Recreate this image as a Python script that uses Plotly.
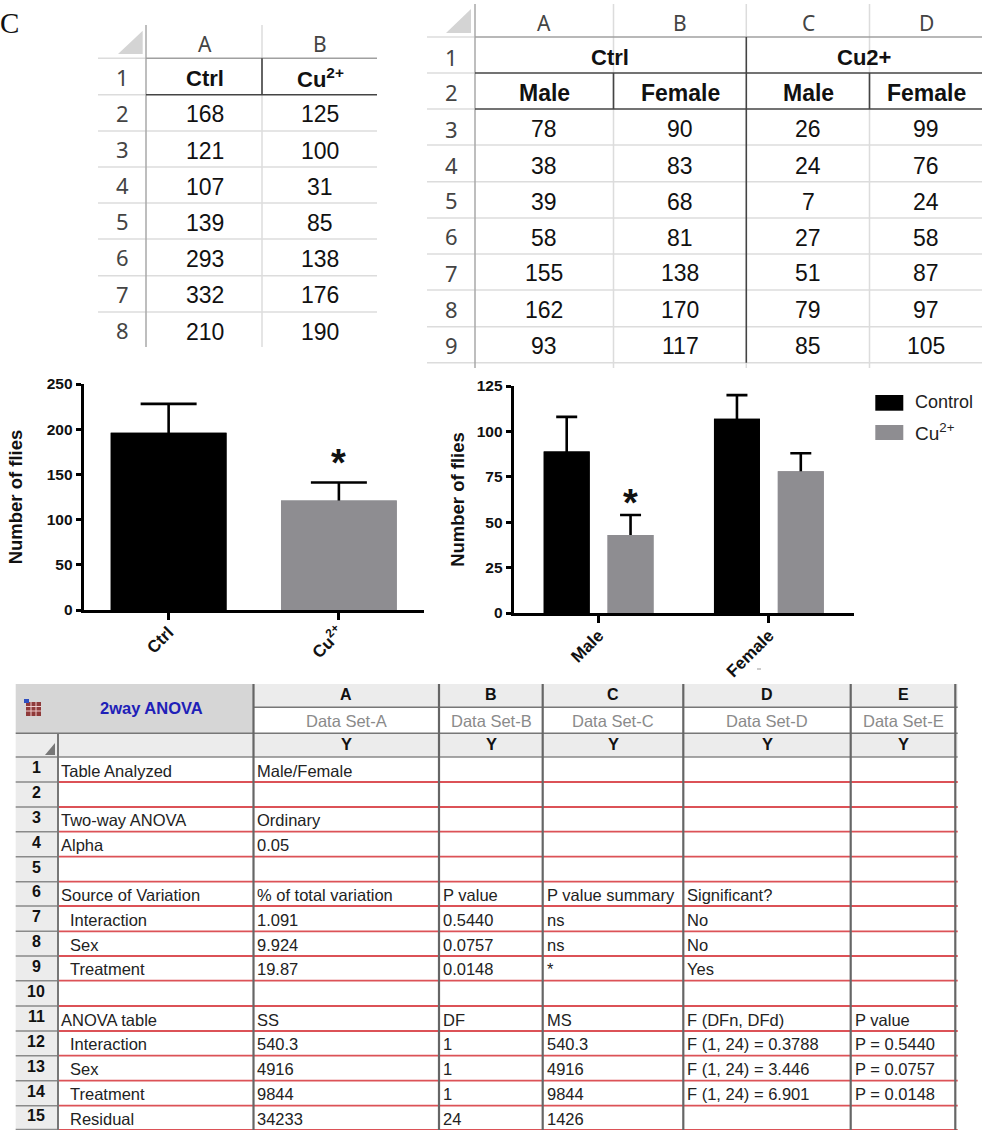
import plotly.graph_objects as go

# ---------- data ----------
total_categories = ["Ctrl", "Cu<sup>2+</sup>"]
total_means = [196, 121]
total_errors = [32, 20]

sex_categories = ["Male", "Female"]
sex_control_means = [89, 107]
sex_control_errors = [19, 13]
sex_copper_means = [43, 78]
sex_copper_errors = [11, 10]
legend_labels = ["Control", "Cu<sup>2+</sup>"]

t1_letters = ["A", "B"]
t1_header = ["Ctrl", "Cu<sup>2+</sup>"]
t1_ctrl = [168, 121, 107, 139, 293, 332, 210]
t1_cu = [125, 100, 31, 85, 138, 176, 190]

t2_letters = ["A", "B", "C", "D"]
t2_groups = ["Ctrl", "Cu2+"]
t2_sub = ["Male", "Female", "Male", "Female"]
t2_ctrl_male = [78, 38, 39, 58, 155, 162, 93]
t2_ctrl_female = [90, 83, 68, 81, 138, 170, 117]
t2_cu_male = [26, 24, 7, 27, 51, 79, 85]
t2_cu_female = [99, 76, 24, 58, 87, 97, 105]

anova_title = "2way ANOVA"
anova_letters = ["A", "B", "C", "D", "E"]
anova_sets = ["Data Set-A", "Data Set-B", "Data Set-C", "Data Set-D", "Data Set-E"]
anova_labels = ["Table Analyzed", "", "Two-way ANOVA", "Alpha", "", "Source of Variation",
                "  Interaction", "  Sex", "  Treatment", "", "ANOVA table",
                "  Interaction", "  Sex", "  Treatment", "  Residual"]
anova_a = ["Male/Female", "", "Ordinary", "0.05", "", "% of total variation", "1.091", "9.924",
           "19.87", "", "SS", "540.3", "4916", "9844", "34233"]
anova_b = ["", "", "", "", "", "P value", "0.5440", "0.0757", "0.0148", "", "DF", "1", "1", "1", "24"]
anova_c = ["", "", "", "", "", "P value summary", "ns", "ns", "*", "", "MS", "540.3", "4916", "9844", "1426"]
anova_d = ["", "", "", "", "", "Significant?", "No", "No", "Yes", "", "F (DFn, DFd)",
           "F (1, 24) = 0.3788", "F (1, 24) = 3.446", "F (1, 24) = 6.901", ""]
anova_e = ["", "", "", "", "", "", "", "", "", "", "P value", "P = 0.5440", "P = 0.0757", "P = 0.0148", ""]

# ---------- style ----------
W, H = 985, 1130
GRAY = "#8e8d91"
SANS = "Liberation Sans, Arial, sans-serif"
HEAD = "Noto Sans, Open Sans, sans-serif"
px = lambda v: v / W
py = lambda v: 1 - v / H

shapes, annotations = [], []


def line(x0, y0, x1, y1, color, width=1):
    shapes.append(dict(type="line", xref="paper", yref="paper", x0=px(x0), x1=px(x1),
                       y0=py(y0), y1=py(y1), line=dict(color=color, width=width)))


def rect(x0, y0, x1, y1, fill):
    shapes.append(dict(type="rect", xref="paper", yref="paper", x0=px(x0), x1=px(x1),
                       y0=py(y0), y1=py(y1), fillcolor=fill, line=dict(width=0)))


def tri(x0, y0, x1, y1, fill):
    path = f"M{px(x0)},{py(y0)}L{px(x1)},{py(y0)}L{px(x1)},{py(y1)}Z"
    shapes.append(dict(type="path", xref="paper", yref="paper", path=path,
                       fillcolor=fill, line=dict(width=0)))


def text(x, y, s, size, color="#222", bold=False, family=SANS, anchor="center"):
    s = str(s)
    if not s:
        return
    if bold:
        s = f"<b>{s}</b>"
    annotations.append(dict(xref="paper", yref="paper", x=px(x), y=py(y), text=s, showarrow=False,
                            xanchor=anchor, yanchor="middle", borderpad=0, borderwidth=0,
                            font=dict(family=family, size=size, color=color)))


text(0, 23, "C", 29, "#111", family="Liberation Serif, serif", anchor="left")

# ---------- table 1 ----------
T1_Y = [58.3, 94.7, 131, 167, 203, 239, 275.7, 312]
for y in T1_Y[2:]:
    line(98, y, 377, y, "#dcdcdc", 1.5)
line(98, 58.3, 146, 58.3, "#dcdcdc", 1.5)
line(98, 94.7, 146, 94.7, "#dcdcdc", 1.5)
line(146, 25, 146, 347, "#a8a8a8", 1.5)
line(262, 25, 262, 347, "#dcdcdc", 1.5)
line(146, 58.3, 377, 58.3, "#a0a0a0", 1.5)
line(146, 94.7, 377, 94.7, "#444", 1.6)
line(262, 58.3, 262, 94.7, "#444", 1.6)
tri(118, 54, 142.7, 30.7, "#d4d4d4")
T1_CX = [205, 320]
for cx, s in zip(T1_CX, t1_letters):
    text(cx, 44, s, 21, "#444", family=HEAD)
for cx, s in zip(T1_CX, t1_header):
    text(cx, 78, s, 22, "#111", bold=True)
for i in range(8):
    text(122, 77 + 36.1 * i, i + 1, 22, "#444", family=HEAD)
for i in range(7):
    y = 114.5 + 36.2 * i
    text(T1_CX[0], y, t1_ctrl[i], 23, "#111")
    text(T1_CX[1], y, t1_cu[i], 23, "#111")

# ---------- table 2 ----------
T2_Y = [37, 73, 109, 145, 181.7, 218, 254, 290, 326.7, 362.7]
for y in T2_Y[3:]:
    line(427, y, 982, y, "#dcdcdc", 1.5)
for y in T2_Y[:3]:
    line(427, y, 475, y, "#dcdcdc", 1.5)
for x in (613.5, 869.5):
    line(x, 4, x, 368, "#dcdcdc", 1.5)
line(746.3, 4, 746.3, 37, "#dcdcdc", 1.5)
line(746.3, 362, 746.3, 368, "#dcdcdc", 1.5)
line(475, 4, 475, 368, "#a8a8a8", 1.5)
line(475, 37, 982, 37, "#a0a0a0", 1.5)
line(475, 73, 982, 73, "#444", 1.6)
line(475, 109, 982, 109, "#444", 1.6)
line(746.3, 37, 746.3, 362.7, "#444", 1.6)
line(613.5, 73, 613.5, 109, "#444", 1.6)
line(869.5, 73, 869.5, 109, "#444", 1.6)
tri(446, 33, 471, 9, "#d4d4d4")
T2_CX = [544, 680, 808, 926]
for cx, s in zip(T2_CX, t2_letters):
    text(cx, 23, s, 21, "#444", family=HEAD)
for cx, s in zip((610, 864), t2_groups):
    text(cx, 57, s, 22, "#111", bold=True)
for cx, s in zip(T2_CX, t2_sub):
    text(cx, 93.5, s, 23, "#111", bold=True)
for i in range(9):
    text(451, 56.5 + 36 * i, i + 1, 22, "#444", family=HEAD)
for col, cx in zip((t2_ctrl_male, t2_ctrl_female, t2_cu_male, t2_cu_female), T2_CX):
    for i, v in enumerate(col):
        text(cx, 129.5 + 36 * i, v, 23, "#111")

# ---------- legend ----------
rect(875.3, 395, 903.3, 410.7, "#000")
rect(875.3, 425, 903.3, 440, GRAY)
text(915, 402.5, legend_labels[0], 18, "#222", anchor="left")
text(915, 432, legend_labels[1], 19, "#222", anchor="left")
line(757, 669, 761, 669, "#999", 1)

# ---------- ANOVA table ----------
A_X = [15.7, 58, 253.5, 439, 542.7, 683.3, 850.7, 955.3]
A_Y = [757, 782, 807, 831.7, 856.7, 881.7, 906, 931.3, 956, 980.7, 1006, 1031, 1055.7, 1080.7, 1105.7, 1129.5]
rect(15.7, 684, 253.5, 733.3, "#d6d6d6")
rect(253.5, 684, 957.7, 707.3, "#ececec")
rect(15.7, 733.3, 957.7, 757, "#ececec")
rect(15.7, 757, 58, 1130, "#ececec")
line(253.5, 707.3, 957.7, 707.3, "#777", 1.5)
line(15.7, 733.3, 957.7, 733.3, "#777", 1.5)
line(15.7, 757, 957.7, 757, "#888", 1.5)
for y in A_Y[1:]:
    line(15.7, y, 58, y, "#8a8a8a", 1.5)
    line(58, y, 957.7, y, "#dc5257", 1.8 if y != 1129.5 else 1)
line(58, 733.3, 58, 1130, "#777", 2)
for x in A_X[2:]:
    line(x, 684, x, 1130, "#666", 2.2)
tri(45, 755, 55, 743, "#777")
# icon
rect(26, 702, 41, 716, "#8f3a3a")
for x in (31, 36):
    line(x, 702, x, 716, "#eecccc", 1)
for y in (706.5, 711):
    line(26, y, 41, y, "#eecccc", 1)
rect(24, 699, 29, 703, "#2f4fc0")

text(151, 708, anova_title, 16.5, "#2020b8", bold=True)
A_CX = [346, 491, 613, 767, 903.5]
for cx, a, b in zip(A_CX, anova_letters, anova_sets):
    text(cx, 694, a, 16, "#111", bold=True)
    text(cx, 720.5, b, 16.5, "#8a8a8a")
    text(cx, 744, "Y", 16.5, "#111", bold=True)
A_TX = [256.7, 442.7, 546.7, 687.3, 855]
for i in range(15):
    y = (A_Y[i] + A_Y[i + 1]) / 2
    text(36, y - 2, i + 1, 16, "#111", bold=True)
    lab = anova_labels[i]
    if lab.startswith("  "):
        text(70, y + 1, lab.strip(), 16.5, anchor="left")
    else:
        text(61, y + 1, lab, 16.5, anchor="left")
    for col, x in zip((anova_a, anova_b, anova_c, anova_d, anova_e), A_TX):
        text(x, y + 1, col[i], 16.5, anchor="left")

# ---------- charts ----------
fig = go.Figure()


def add_bars(categories, means, errors, colors, width, offset, cap, xa, ya):
    # error bars first, then the solid bars on top, so only the upper whisker shows
    fig.add_trace(go.Bar(x=categories, y=means, width=width, offset=offset,
                         marker=dict(color=colors, line=dict(width=0)),
                         error_y=dict(type="data", symmetric=False, array=errors,
                                      arrayminus=[e * 0.3 for e in errors],
                                      color="#000", thickness=2.6, width=cap),
                         xaxis=xa, yaxis=ya, showlegend=False))
    fig.add_trace(go.Bar(x=categories, y=means, width=width, offset=offset,
                         marker=dict(color=colors, line=dict(width=0)),
                         xaxis=xa, yaxis=ya, showlegend=False))


add_bars(total_categories, total_means, total_errors, ["#000000", GRAY], 0.68, -0.34, 28, "x", "y")
add_bars(sex_categories, sex_control_means, sex_control_errors, "#000000", 0.27, -0.3225, 10.5, "x2", "y2")
add_bars(sex_categories, sex_copper_means, sex_copper_errors, GRAY, 0.27, 0.0525, 10.5, "x2", "y2")

tick_font = dict(family=SANS, size=15.5, color="#111", weight="bold")
x_font = dict(family=SANS, size=17, color="#111", weight="bold")
title_font = dict(family=SANS, size=18.5, color="#111", weight="bold")
xcommon = dict(type="category", range=[-0.5, 1.5], showline=True, linecolor="#000", linewidth=2.6,
               ticks="outside", ticklen=7, tickwidth=2.6, tickcolor="#000", tickangle=-45,
               tickfont=x_font, ticklabelstandoff=-4, showgrid=False, zeroline=False, automargin=False,
               fixedrange=True)
ycommon = dict(showline=True, linecolor="#000", linewidth=2.6, ticks="outside", ticklen=5, tickwidth=2.6,
               tickcolor="#000", tickfont=tick_font, showgrid=False, zeroline=False, automargin=False,
               fixedrange=True)

fig.update_layout(
    width=W, height=H, margin=dict(l=0, r=0, t=0, b=0, pad=0),
    paper_bgcolor="#fff", plot_bgcolor="rgba(0,0,0,0)", barmode="overlay",
    showlegend=False,
    xaxis=dict(xcommon, domain=[px(83.5), px(424)], anchor="y"),
    yaxis=dict(ycommon, domain=[py(610), py(384)], range=[0, 250], tick0=0, dtick=50, anchor="x",
               title=dict(text="Number of flies", font=title_font, standoff=20)),
    xaxis2=dict(xcommon, domain=[px(513.5), px(854)], anchor="y2"),
    yaxis2=dict(ycommon, domain=[py(613), py(386)], range=[0, 125], tick0=0, dtick=25, anchor="x2",
                title=dict(text="Number of flies", font=title_font, standoff=8)),
    shapes=shapes,
)
annotations.append(dict(xref="x", yref="y", x=total_categories[1], y=total_means[1] + total_errors[1],
                        text="<b>*</b>", showarrow=False, yanchor="bottom", yshift=-3,
                        font=dict(family=SANS, size=38, color="#111")))
annotations.append(dict(xref="x2", yref="y2", x=sex_categories[0], y=sex_copper_means[0] + sex_copper_errors[0],
                        text="<b>*</b>", showarrow=False, yanchor="bottom", yshift=-11, xshift=32,
                        font=dict(family=SANS, size=38, color="#111")))
fig.update_layout(annotations=annotations)

fig.write_html("out.html", config=dict(displayModeBar=False),
               post_script="document.body.style.margin='0';document.body.style.overflow='hidden';")
